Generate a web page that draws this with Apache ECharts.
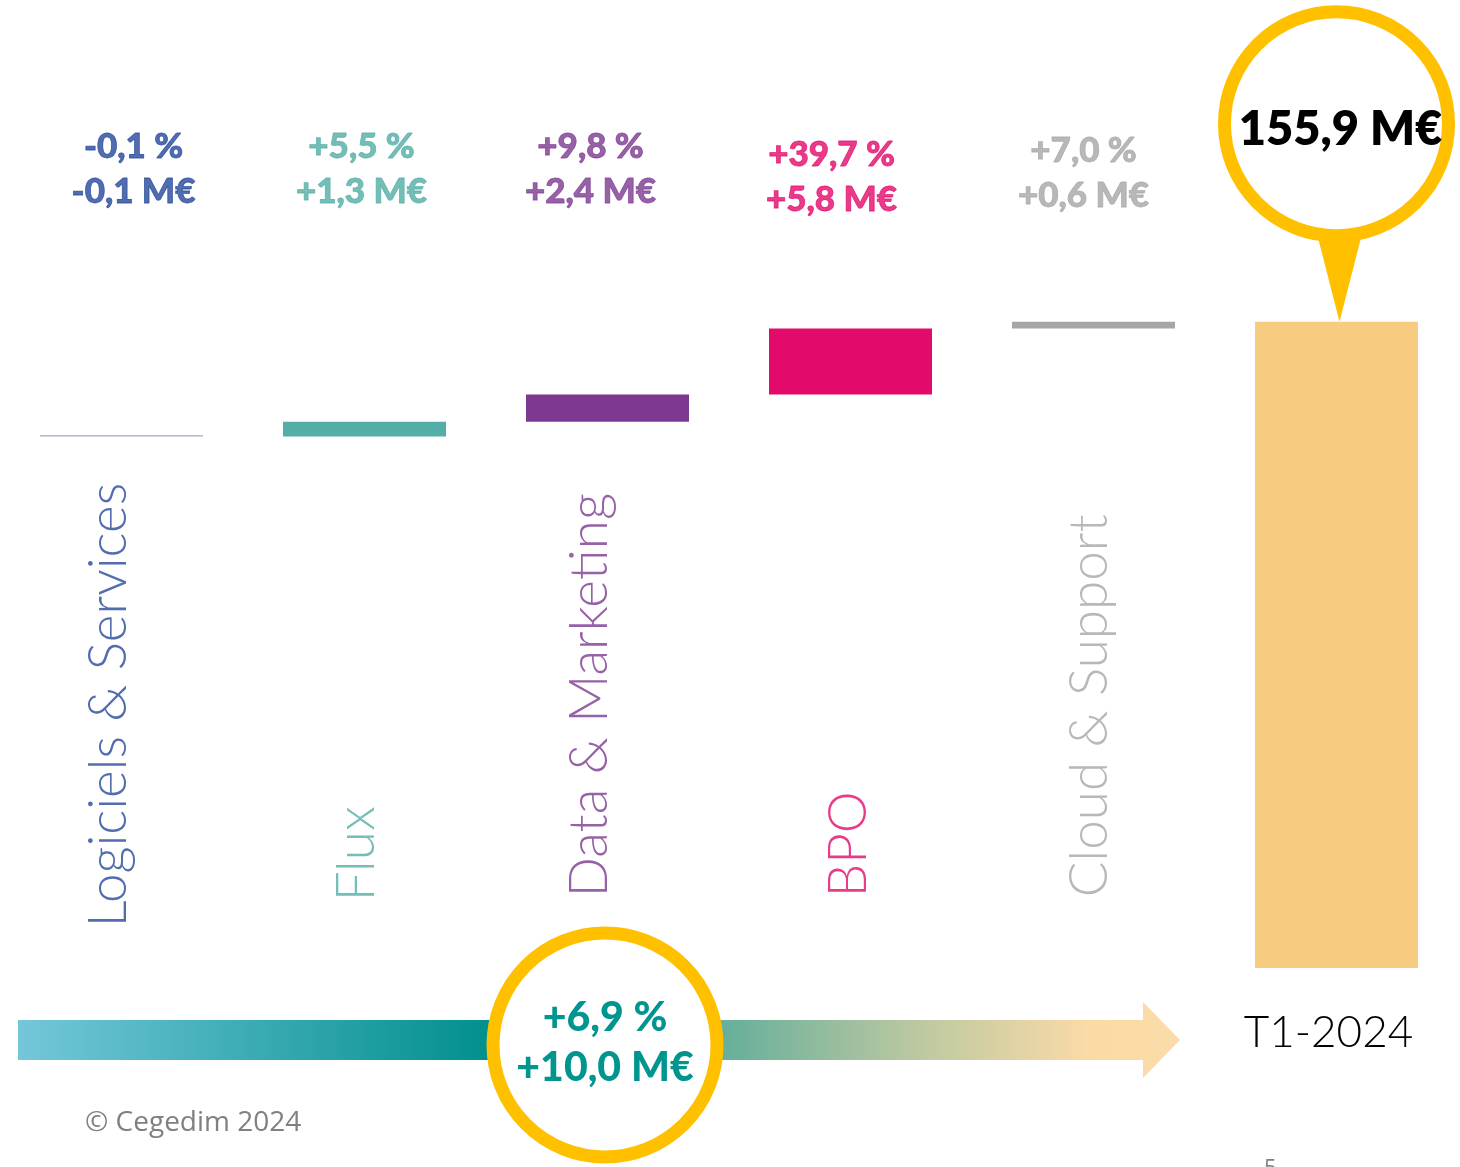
<!DOCTYPE html>
<html lang="fr">
<head>
    <meta charset="UTF-8">
    <title>Chiffre d'affaires T1-2024</title>
    <script src="https://cdn.jsdelivr.net/npm/echarts@6/dist/echarts.min.js"></script>
    <style>
        html, body { margin: 0; padding: 0; background: #fff; }
        #chart { width: 1460px; height: 1167px; }
    </style>
</head>
<body>
    <div id="chart"></div>

    <script>
        // données (M€)
        const categories = ['Logiciels & Services', 'Flux', 'Data & Marketing', 'BPO', 'Cloud & Support', 'T1-2024'];
        const deltas = [-0.1, 1.3, 2.4, 5.8, 0.6];
        const growthPct = [-0.1, 5.5, 9.8, 39.7, 7.0];
        const total = 155.9;
        const totalGrowthPct = 6.9;
        const totalDelta = 10.0;

        // couleurs
        const barColors = ['#a3a7c6', '#52aea6', '#7d3991', '#e20a6b', '#a6a6a6'];
        const textColors = ['#26479b', '#52aea6', '#7d3991', '#e20a6b', '#a6a6a6'];
        const totalColor = '#f7cc80';
        const gold = '#ffc000';
        const teal = '#00958f';

        // petits décalages des textes (px), comme sur la diapo d'origine
        const labelNudge = [[12, 2], [-3, 2], [-17, 2], [-19, 10], [-10, 6]];
        // repère du texte tourné : [vers le haut, vers la droite]
        const nameNudge = [[-32, -13], [-6, -8], [-2, -18], [-2, -2], [-2, -4]];

        const fmt = (v, unit) => (v < 0 ? '-' : '+') + Math.abs(v).toFixed(1).replace('.', ',') + ' ' + unit;

        // base invisible + hauteur de chaque marche
        const start = total - deltas.reduce((a, b) => a + b, 0);
        const baseData = [];
        const stepData = [];
        let level = start;
        deltas.forEach((d, i) => {
            baseData.push(Math.min(level, level + d));
            stepData.push({ value: Math.abs(d), itemStyle: { color: barColors[i] } });
            level += d;
        });
        baseData.push(0);
        stepData.push({ value: total, itemStyle: { color: totalColor } });

        const chart = echarts.init(document.getElementById('chart'));

        const option = {
            animation: false,
            grid: { left: -4, right: 2, top: 48, bottom: 199 },
            xAxis: {
                type: 'category',
                data: categories,
                axisLine: { show: false },
                axisTick: { show: false },
                axisLabel: {
                    interval: 0,
                    margin: 43,
                    padding: [0, 16, 0, 0],
                    color: '#000',
                    fontFamily: 'Lato',
                    fontWeight: 300,
                    fontSize: 44,
                    formatter: (v, i) => (i === categories.length - 1 ? v : '')
                }
            },
            yAxis: { type: 'value', min: 99, max: 180, show: false },
            series: [
                {
                    type: 'bar',
                    stack: 'wf',
                    silent: true,
                    barWidth: 163,
                    itemStyle: { color: 'transparent' },
                    data: baseData
                },
                {
                    type: 'bar',
                    stack: 'wf',
                    barWidth: 163,
                    data: stepData,
                    markPoint: {
                        data: [
                            {
                                coord: [categories.length - 1, total],
                                symbol: 'path://M0,0L44,0L22,86Z',
                                symbolSize: [44, 86],
                                symbolOffset: [3, -43],
                                itemStyle: { color: gold },
                                label: { show: false }
                            },
                            {
                                coord: [categories.length - 1, total],
                                symbol: 'circle',
                                symbolSize: 224,
                                symbolOffset: [0, -198],
                                itemStyle: { color: '#fff', borderColor: gold, borderWidth: 13 },
                                label: {
                                    show: true,
                                    position: 'inside',
                                    offset: [4, 6],
                                    formatter: total.toFixed(1).replace('.', ',') + ' M€',
                                    color: '#000',
                                    fontFamily: 'Lato',
                                    fontWeight: 800,
                                    fontSize: 47
                                }
                            }
                        ]
                    }
                },
                {
                    // variations au-dessus des marches
                    type: 'scatter',
                    symbolSize: 0,
                    silent: true,
                    data: deltas.map((d, i) => ({
                        value: [i, 169.5],
                        label: {
                            show: true,
                            position: 'inside',
                            offset: labelNudge[i],
                            formatter: fmt(growthPct[i], '%') + '\n' + fmt(d, 'M€'),
                            color: textColors[i],
                            textBorderColor: textColors[i],
                            textBorderWidth: 0.8,
                            fontFamily: 'Lato',
                            fontWeight: 900,
                            fontSize: 35,
                            lineHeight: 45
                        }
                    }))
                },
                {
                    // noms des activités, verticaux
                    type: 'scatter',
                    symbolSize: 0,
                    silent: true,
                    data: deltas.map((d, i) => ({
                        value: [i, 105.4],
                        label: {
                            show: true,
                            position: 'inside',
                            rotate: 90,
                            align: 'left',
                            verticalAlign: 'middle',
                            offset: nameNudge[i],
                            formatter: categories[i],
                            color: textColors[i],
                            fontFamily: 'Lato',
                            fontWeight: 300,
                            fontSize: 53
                        }
                    }))
                }
            ],
            graphic: [
                {
                    type: 'polygon',
                    shape: {
                        points: [[18, 1020], [1143, 1020], [1143, 1002], [1180, 1040], [1143, 1078], [1143, 1060], [18, 1060]]
                    },
                    style: {
                        fill: {
                            type: 'linear', x: 18, y: 0, x2: 1180, y2: 0, global: true,
                            colorStops: [
                                { offset: 0, color: '#74c7d9' },
                                { offset: 0.41, color: '#008f8c' },
                                { offset: 0.6, color: '#62ae9b' },
                                { offset: 0.78, color: '#bfc9a1' },
                                { offset: 0.92, color: '#fadaa7' },
                                { offset: 1, color: '#fbdba8' }
                            ]
                        }
                    }
                },
                {
                    type: 'circle',
                    shape: { cx: 605, cy: 1045, r: 112 },
                    style: { fill: '#fff', stroke: gold, lineWidth: 13 }
                },
                {
                    type: 'text',
                    x: 605,
                    y: 1043,
                    style: {
                        text: fmt(totalGrowthPct, '%') + '\n' + fmt(totalDelta, 'M€'),
                        fill: teal,
                        font: '900 41px Lato',
                        lineHeight: 50,
                        align: 'center',
                        verticalAlign: 'middle'
                    }
                },
                {
                    type: 'text',
                    x: 85,
                    y: 1123,
                    style: {
                        text: '© Cegedim 2024',
                        fill: '#808080',
                        font: '28px "Open Sans"',
                        verticalAlign: 'middle'
                    }
                },
                {
                    type: 'text',
                    x: 1264,
                    y: 1158,
                    style: { text: '5', fill: '#808080', font: '22px "Open Sans"' }
                }
            ]
        };

        chart.setOption(option);
    </script>
</body>
</html>
